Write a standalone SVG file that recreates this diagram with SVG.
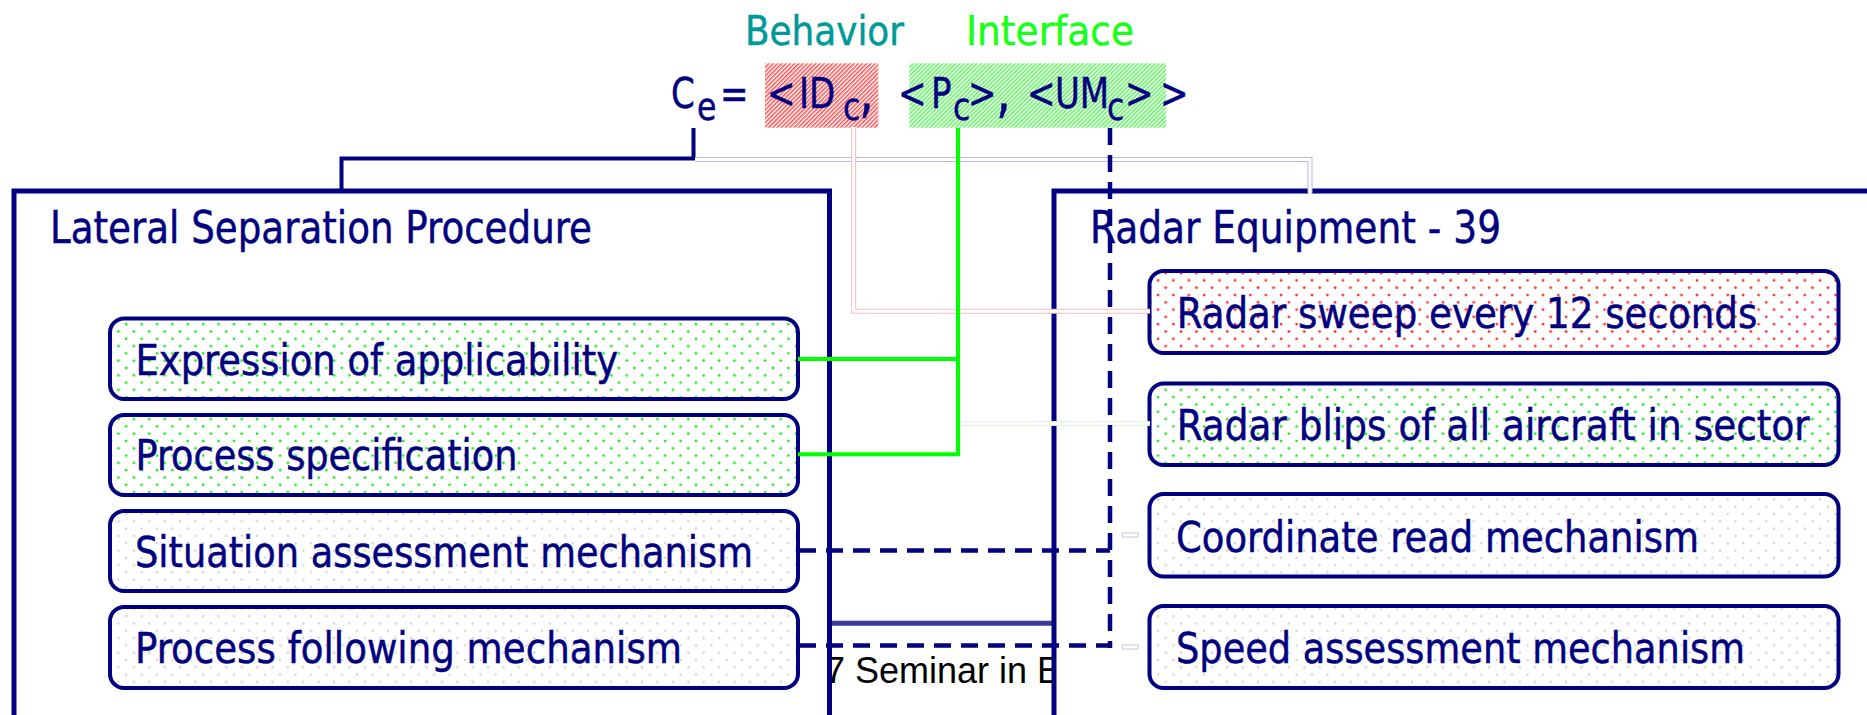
<svg xmlns="http://www.w3.org/2000/svg" width="1867" height="715" viewBox="0 0 1867 715">
  <style>
    .t { font-family: "DejaVu Sans Condensed", "DejaVu Sans", sans-serif; font-stretch: condensed; fill: #000080; stroke: #000080; stroke-width: 0.45; }
    .title { font-size: 44px; }
    .item { font-size: 43px; }
    .f { font-size: 42px; }
    .sub { font-size: 39px; }
    .comma { font-size: 58px; }
    .outer { fill: #ffffff; stroke: #000080; stroke-width: 5; }
    .inner { stroke: #000080; stroke-width: 4; }
    .navy { fill: none; stroke: #000080; stroke-width: 4; }
    .green { fill: none; stroke: #00ff00; stroke-width: 4; }
    .dash { fill: none; stroke: #000080; stroke-width: 4.5; stroke-dasharray: 17 10; }
    .hollowIn { fill: none; stroke: #ffffff; stroke-width: 3; }
  </style>
  <defs>
    <pattern id="hatchRed" width="3" height="3" patternUnits="userSpaceOnUse" patternTransform="rotate(45)">
      <rect width="3" height="3" fill="#ffffff"/>
      <rect width="1.5" height="3" fill="#ff4f4f"/>
    </pattern>
    <pattern id="hatchGreen" width="3" height="3" patternUnits="userSpaceOnUse" patternTransform="rotate(45)">
      <rect width="3" height="3" fill="#ffffff"/>
      <rect width="1.5" height="3" fill="#5cf25c"/>
    </pattern>
    <pattern id="dotGreen" width="15.4" height="14.6" patternUnits="userSpaceOnUse">
      <rect width="15.4" height="14.6" fill="#ffffff"/>
      <circle cx="3" cy="3" r="1.4" fill="#1ee81e"/>
      <circle cx="10.7" cy="10.3" r="1.4" fill="#1ee81e"/>
    </pattern>
    <pattern id="dotRed" width="15.4" height="14.6" patternUnits="userSpaceOnUse">
      <rect width="15.4" height="14.6" fill="#ffffff"/>
      <circle cx="3" cy="3" r="1.4" fill="#ff2a2a"/>
      <circle cx="10.7" cy="10.3" r="1.4" fill="#ff2a2a"/>
    </pattern>
    <pattern id="dotGray" width="15.4" height="14.6" patternUnits="userSpaceOnUse">
      <rect width="15.4" height="14.6" fill="#ffffff"/>
      <circle cx="3" cy="3" r="1.3" fill="#d6d6d6"/>
      <circle cx="10.7" cy="10.3" r="1.3" fill="#d6d6d6"/>
    </pattern>
  </defs>

  <!-- slide footer, partly covered by the two panels -->
  <g id="footer">
    <text x="825" y="683.3" font-family="'Liberation Sans', Arial, sans-serif" font-size="36" fill="#000000">7 Seminar in E</text>
    <line x1="830" y1="623.3" x2="1054" y2="623.3" stroke="#3a3a98" stroke-width="5"/>
  </g>

  <!-- component tuple -->
  <g id="formula">
    <text class="t" x="745" y="45" font-size="40" style="fill:#009999;stroke:#009999" textLength="159" lengthAdjust="spacingAndGlyphs">Behavior</text>
    <text class="t" x="966" y="45" font-size="40" style="fill:#1aff1a;stroke:#1aff1a" textLength="168" lengthAdjust="spacingAndGlyphs">Interface</text>
    <rect x="765" y="63.3" width="113.3" height="64.4" fill="url(#hatchRed)"/>
    <rect x="909.3" y="63.3" width="256.7" height="64.4" fill="url(#hatchGreen)"/>
    <!-- glyph runs placed one by one, squeezed horizontally by 0.9 -->
    <text class="t f" transform="scale(0.9 1)"><tspan x="745.6" y="108">C</tspan><tspan class="sub" x="774.4" y="120">e</tspan><tspan x="800" y="108">=</tspan><tspan x="852.2" y="108">&lt;</tspan><tspan x="887.8" y="108">ID</tspan><tspan class="sub" x="936.7" y="120">c</tspan><tspan class="comma" x="954.4" y="111">,</tspan><tspan x="997.8" y="108">&lt;</tspan><tspan x="1034.4" y="108">P</tspan><tspan class="sub" x="1058.9" y="120">c</tspan><tspan x="1075.6" y="108">&gt;</tspan><tspan class="comma" x="1106.7" y="111">,</tspan><tspan x="1141.1" y="108">&lt;</tspan><tspan x="1172.2" y="108">UM</tspan><tspan class="sub" x="1230" y="120">c</tspan><tspan x="1250" y="108">&gt;</tspan><tspan x="1288.9" y="108">&gt;</tspan></text>
  </g>

  <!-- procedure panel -->
  <g id="lateral-separation-procedure">
    <rect class="outer" x="14" y="191" width="815.5" height="600"/>
    <text class="t title" x="50" y="243.3" textLength="542" lengthAdjust="spacingAndGlyphs">Lateral Separation Procedure</text>
  </g>
  <g id="expression-of-applicability">
    <rect class="inner" x="110" y="318.5" width="688" height="80.5" rx="14" fill="url(#dotGreen)"/>
    <text class="t item" x="135.5" y="375" textLength="482.5" lengthAdjust="spacingAndGlyphs">Expression of applicability</text>
  </g>
  <g id="process-specification">
    <rect class="inner" x="110" y="415" width="688" height="80" rx="14" fill="url(#dotGreen)"/>
    <text class="t item" x="135.5" y="470" textLength="382" lengthAdjust="spacingAndGlyphs">Process specification</text>
  </g>
  <g id="situation-assessment-mechanism">
    <rect class="inner" x="110" y="511" width="688" height="80" rx="14" fill="url(#dotGray)"/>
    <text class="t item" x="135" y="567.3" textLength="618" lengthAdjust="spacingAndGlyphs">Situation assessment mechanism</text>
  </g>
  <g id="process-following-mechanism">
    <rect class="inner" x="110" y="607" width="688" height="81" rx="14" fill="url(#dotGray)"/>
    <text class="t item" x="135" y="662.7" textLength="547" lengthAdjust="spacingAndGlyphs">Process following mechanism</text>
  </g>

  <!-- equipment panel -->
  <g id="radar-equipment">
    <rect class="outer" x="1054" y="191" width="900" height="600"/>
    <text class="t title" x="1090" y="243.3" textLength="411" lengthAdjust="spacingAndGlyphs">Radar Equipment - 39</text>
  </g>
  <g id="radar-sweep">
    <rect class="inner" x="1149.5" y="271" width="689" height="82" rx="14" fill="url(#dotRed)"/>
    <text class="t item" x="1176.7" y="328.3" textLength="580.7" lengthAdjust="spacingAndGlyphs">Radar sweep every 12 seconds</text>
  </g>
  <g id="radar-blips">
    <rect class="inner" x="1149.5" y="383.5" width="689" height="81.5" rx="14" fill="url(#dotGreen)"/>
    <text class="t item" x="1176.7" y="440" textLength="633" lengthAdjust="spacingAndGlyphs">Radar blips of all aircraft in sector</text>
  </g>
  <g id="coordinate-read-mechanism">
    <rect class="inner" x="1149.5" y="494" width="689" height="82.5" rx="14" fill="url(#dotGray)"/>
    <text class="t item" x="1176" y="551.7" textLength="523" lengthAdjust="spacingAndGlyphs">Coordinate read mechanism</text>
  </g>
  <g id="speed-assessment-mechanism">
    <rect class="inner" x="1149.5" y="606" width="689" height="82" rx="14" fill="url(#dotGray)"/>
    <text class="t item" x="1176" y="663.3" textLength="569" lengthAdjust="spacingAndGlyphs">Speed assessment mechanism</text>
  </g>

  <!-- connectors -->
  <g id="connectors">
    <path class="navy" d="M693.5,128 V158.5 H341.5 V191"/>
    <path fill="none" stroke="#b8b8dc" stroke-width="5" d="M695,159.5 H1310 V193"/>
    <path class="hollowIn" d="M695,159.5 H1310 V194"/>
    <path fill="none" stroke="#f4bcbc" stroke-width="5" d="M853.7,128 V311.2 H1150"/>
    <path class="hollowIn" d="M853.7,127 V311.2 H1150"/>
    <path fill="none" stroke="#d6f6d6" stroke-width="5" d="M960,423.5 H1150"/>
    <path class="hollowIn" d="M960,423.5 H1150"/>
    <path class="green" d="M958,128 V454.3 H798"/>
    <path class="green" d="M958,359 H798"/>
    <path class="dash" d="M1110,128 V648"/>
    <path class="dash" d="M799,550.6 H1110"/>
    <path class="dash" d="M799,645.6 H1110"/>
    <rect x="1122.5" y="533" width="15.5" height="4" fill="#ffffff" stroke="#c4c4e4" stroke-width="1"/>
    <rect x="1122.5" y="645" width="15.5" height="4" fill="#ffffff" stroke="#c4c4e4" stroke-width="1"/>
  </g>
</svg>
